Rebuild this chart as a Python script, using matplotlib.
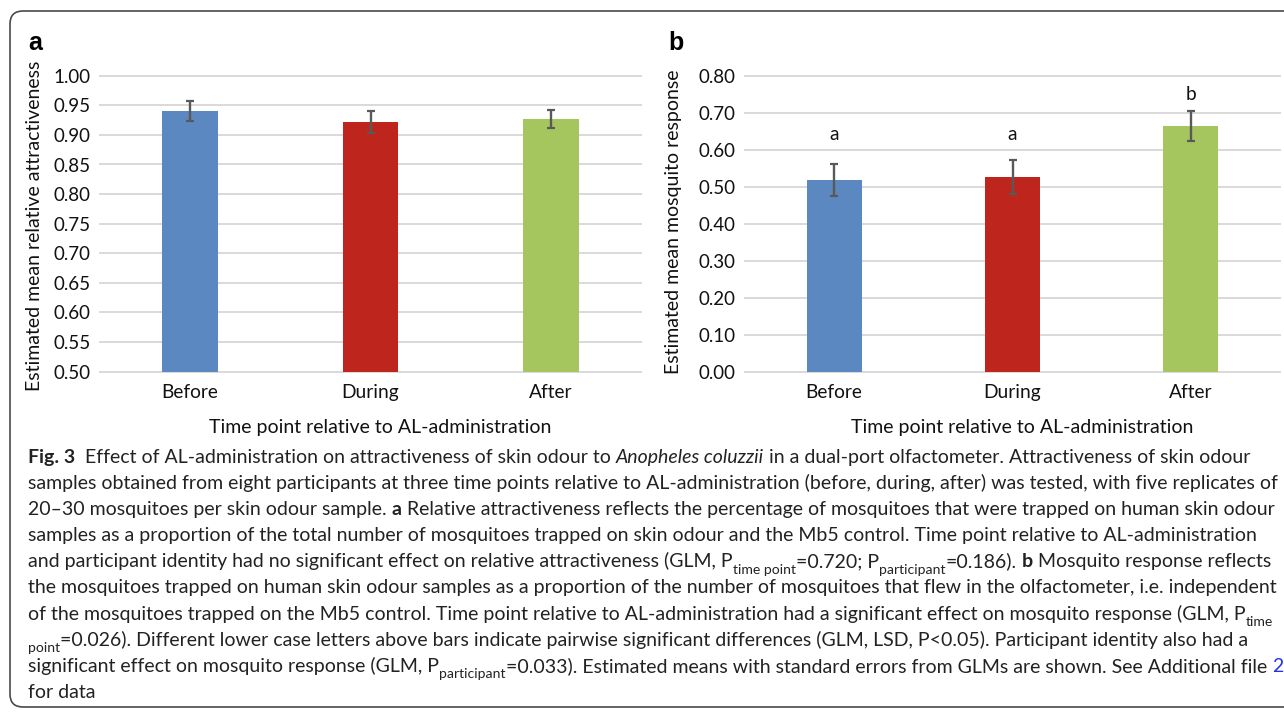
import matplotlib

matplotlib.use("Agg")
import matplotlib.pyplot as plt
import numpy as np
from matplotlib.patches import FancyBboxPatch

W, H = 1284, 715
CHART_FONT = "Lato"
CAPTION_FONT = "Lato"

categories = ["Before", "During", "After"]
bar_colors = ["#5b88c1", "#be261d", "#a5c55e"]

# panel a: estimated mean relative attractiveness
attract_mean = [0.940, 0.922, 0.927]
attract_se = [0.0165, 0.019, 0.0155]

# panel b: estimated mean mosquito response
response_mean = [0.518, 0.526, 0.664]
response_se = [0.043, 0.045, 0.041]
response_letters = ["a", "a", "b"]
letter_y = [0.640, 0.640, 0.748]

caption_lines = [
    [("Fig. 3", "b"), ("  Effect of AL-administration on attractiveness of skin odour to ", "n"),
     ("Anopheles coluzzii", "i"), (" in a dual-port olfactometer. Attractiveness of skin odour", "n")],
    [("samples obtained from eight participants at three time points relative to AL-administration "
      "(before, during, after) was tested, with five replicates of", "n")],
    [("20\u201330 mosquitoes per skin odour sample. ", "n"), ("a", "b"),
     (" Relative attractiveness reflects the percentage of mosquitoes that were trapped on human skin odour", "n")],
    [("samples as a proportion of the total number of mosquitoes trapped on skin odour and the Mb5 control. "
      "Time point relative to AL-administration", "n")],
    [("and participant identity had no significant effect on relative attractiveness (GLM, P", "n"),
     ("time point", "sub"), ("=0.720; P", "n"), ("participant", "sub"), ("=0.186). ", "n"),
     ("b", "b"), (" Mosquito response reflects", "n")],
    [("the mosquitoes trapped on human skin odour samples as a proportion of the number of mosquitoes "
      "that flew in the olfactometer, i.e. independent", "n")],
    [("of the mosquitoes trapped on the Mb5 control. Time point relative to AL-administration had a "
      "significant effect on mosquito response (GLM, P", "n"), ("time", "sub")],
    [("point", "sub"), ("=0.026). Different lower case letters above bars indicate pairwise significant "
                        "differences (GLM, LSD, P<0.05). Participant identity also had a", "n")],
    [("significant effect on mosquito response (GLM, P", "n"), ("participant", "sub"),
     ("=0.033). Estimated means with standard errors from GLMs are shown. See Additional file ", "n"),
     ("2", "blue")],
    [("for data", "n")],
]


def px_axes(fig, x0, x1, ytop, ybot):
    return fig.add_axes([x0 / W, 1 - ybot / H, (x1 - x0) / W, (ybot - ytop) / H])


def style_panel(ax, means, ses, ylim, step):
    x = np.arange(len(categories))
    ax.bar(x, means, width=0.31, color=bar_colors, zorder=2)
    ax.errorbar(x, means, yerr=ses, fmt="none", ecolor="#595959", elinewidth=1.7,
                capsize=3.0, capthick=1.6, zorder=3)
    ax.set_xlim(-0.5, len(categories) - 0.5)
    ax.set_ylim(*ylim)
    ax.set_yticks(np.arange(ylim[0], ylim[1] + step / 2, step))
    ax.yaxis.set_major_formatter(matplotlib.ticker.FormatStrFormatter("%.2f"))
    ax.set_xticks(x)
    ax.set_xticklabels(categories)
    ax.grid(axis="y", color="#d9d9d9", lw=1.4)
    for gl in ax.get_ygridlines():
        gl.set_clip_on(False)
    ax.set_axisbelow(True)
    for s in ax.spines.values():
        s.set_visible(False)
    ax.tick_params(axis="y", length=0, pad=6.5, labelsize=13.5)
    ax.tick_params(axis="x", length=0, pad=8.5, labelsize=13.8)
    for lab in ax.get_xticklabels() + ax.get_yticklabels():
        lab.set_family(CHART_FONT)
        lab.set_color("#111111")


def main():
    fig = plt.figure(figsize=(W / 100, H / 100), dpi=100)

    border = FancyBboxPatch((10 / 100, (H - 707) / 100), 13.1, 6.96,
                            boxstyle="round,pad=0,rounding_size=0.13",
                            transform=fig.dpi_scale_trans, fill=False,
                            edgecolor="#4a4a4a", lw=1.2)
    fig.add_artist(border)

    ax_a = px_axes(fig, 100, 641, 75.7, 371.7)
    style_panel(ax_a, attract_mean, attract_se, (0.5, 1.0), 0.05)

    ax_b = px_axes(fig, 745, 1280, 75.7, 371.7)
    style_panel(ax_b, response_mean, response_se, (0.0, 0.8), 0.1)
    for xi, lab, yl in zip(range(len(categories)), response_letters, letter_y):
        ax_b.text(xi, yl, lab, ha="center", va="center", fontsize=13.8,
                  family=CHART_FONT, color="#111111")

    # panel letters
    fig.text(28 / W, 1 - 50 / H, "a", fontsize=18, fontweight="bold",
             family="Liberation Sans", ha="left", va="baseline")
    fig.text(668 / W, 1 - 50 / H, "b", fontsize=18, fontweight="bold",
             family="Liberation Sans", ha="left", va="baseline")

    # axis titles
    fig.text(35 / W, 1 - 226 / H, "Estimated mean relative attractiveness", rotation=90,
             ha="center", va="center", fontsize=14, family=CHART_FONT, color="#111111")
    fig.text(673 / W, 1 - 222 / H, "Estimated mean mosquito response", rotation=90,
             ha="center", va="center", fontsize=14, family=CHART_FONT, color="#111111")
    for cx in (380, 1022):
        fig.text(cx / W, 1 - 427 / H, "Time point relative to AL-administration",
                 ha="center", va="center", fontsize=14, family=CHART_FONT, color="#111111")

    # caption, laid out run by run
    renderer = fig.canvas.get_renderer()

    def run_kw(style, size):
        kw = dict(fontsize=size, family=CAPTION_FONT, color="#222222")
        if style == "b":
            kw["fontweight"] = "bold"
        elif style == "i":
            kw["fontstyle"] = "italic"
        elif style == "sub":
            kw["fontsize"] = size * 0.72
        elif style == "blue":
            kw["color"] = "#2233ee"
        return kw

    def text_width(s, kw):
        t = fig.text(0, 0, s, **kw)
        w = t.get_window_extent(renderer).width
        t.remove()
        return w

    def layout(runs, size, x0=None, y=None):
        sp = text_width("a a", run_kw("n", size)) - text_width("aa", run_kw("n", size))
        x = x0 if x0 is not None else 0
        for s, style in runs:
            kw = run_kw(style, size)
            lead = len(s) - len(s.lstrip(" "))
            trail = len(s) - len(s.rstrip(" "))
            core = s.strip(" ")
            x += lead * sp
            if core:
                if y is not None:
                    dy = size * 0.32 * 100 / 72 if style == "sub" else 0
                    t = fig.text(x / W, 1 - (y + dy) / H, core, ha="left", va="baseline", **kw)
                    w = t.get_window_extent(renderer).width
                else:
                    w = text_width(core, kw)
                x += w
            x += trail * sp
        return x

    base = 13.0
    ratio = np.mean([(1279 - 28) / layout(caption_lines[5], base),
                     (1264 - 28) / layout(caption_lines[1], base)])
    size = base * ratio
    for i, runs in enumerate(caption_lines):
        layout(runs, size, x0=28, y=463 + 26.1 * i)

    fig.savefig("out.png", dpi=100)
    plt.close(fig)


if __name__ == "__main__":
    main()
